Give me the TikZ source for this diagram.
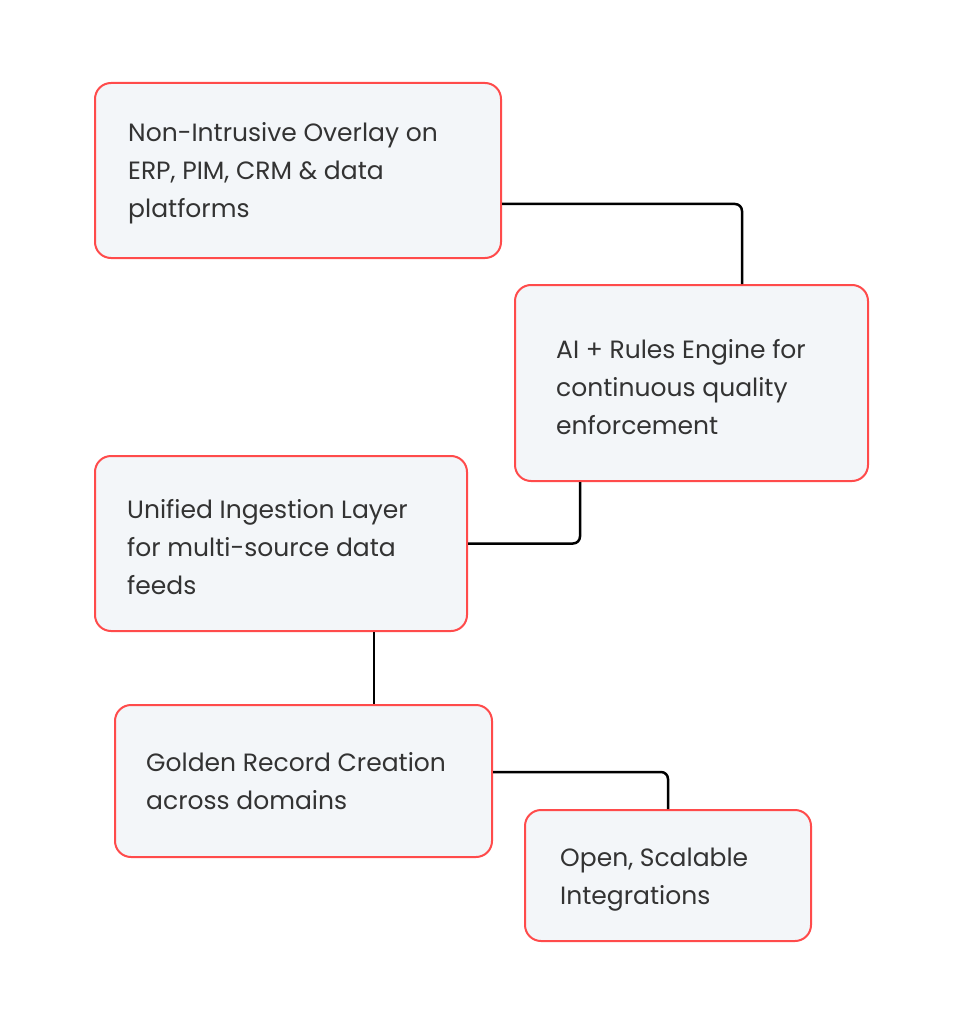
\documentclass[tikz,border=0pt]{standalone}
\usepackage{fontspec}
\setmainfont{Poppins}
\definecolor{boxfill}{HTML}{F3F6F9}
\definecolor{boxline}{HTML}{FF4B4B}
\definecolor{txt}{HTML}{333333}
\begin{document}
\begin{tikzpicture}[x=1pt,y=-1pt,
  box/.style={draw=boxline,fill=boxfill,line width=2pt,rounded corners=16pt,inner sep=0pt},
  label/.style={anchor=west,align=left,text=txt,font=\fontsize{25}{38}\selectfont,inner sep=0pt},
  conn/.style={draw=black,line width=2.5pt,rounded corners=7pt}]
\useasboundingbox (0,0) rectangle (964,1024);
\node[box,minimum width=406pt,minimum height=175pt] (b1) at (298,170.5) {};
\node[box,minimum width=353pt,minimum height=196pt] (b2) at (691.5,383) {};
\node[box,minimum width=372pt,minimum height=175pt] (b3) at (281,543.5) {};
\node[box,minimum width=377pt,minimum height=152pt] (b4) at (303.5,781) {};
\node[box,minimum width=286pt,minimum height=131pt] (b5) at (668,875.5) {};
\node[label] (t1) at ([xshift=34pt,yshift=-3pt]b1.west)
  {Non-Intrusive Overlay on\\ERP, PIM, CRM \& data\\platforms};
\node[label] (t2) at ([xshift=42pt,yshift=-4pt]b2.west)
  {AI + Rules Engine for\\continuous quality\\enforcement};
\node[label] (t3) at ([xshift=33pt,yshift=-4pt]b3.west)
  {Unified Ingestion Layer\\for multi-source data\\feeds};
\node[label] (t4) at ([xshift=32pt,yshift=-0.5pt]b4.west)
  {Golden Record Creation\\across domains};
\node[label] (t5) at ([xshift=36pt,yshift=-4pt]b5.west)
  {Open, Scalable\\Integrations};
\draw[conn] ([yshift=-33.5pt]b1.east) -| ([xshift=50.5pt]b2.north);
\draw[conn] ([xshift=-111.5pt]b2.south) |- (b3.east);
\draw[conn] ([xshift=93pt]b3.south) -- ([xshift=70.5pt]b4.north);
\draw[conn] ([yshift=9pt]b4.east) -| (b5.north);
\end{tikzpicture}
\end{document}
